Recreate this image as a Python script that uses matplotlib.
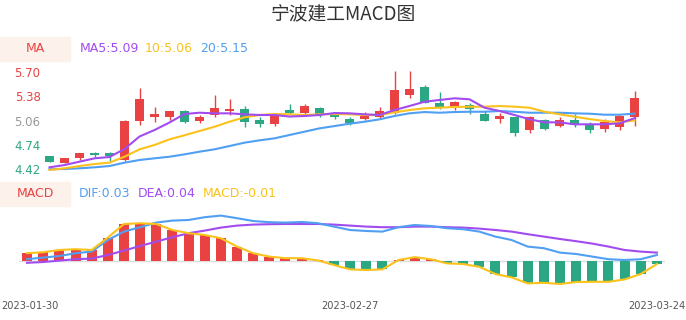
import numpy as np
import pandas as pd
import matplotlib
matplotlib.use('Agg')
import matplotlib.pyplot as plt
import matplotlib.transforms as mtransforms
from matplotlib.patches import Rectangle

# trading days shown on the chart
dates = pd.bdate_range('2023-01-30', '2023-03-24').strftime('%Y-%m-%d').tolist()

# daily candles
opens = [4.59, 4.50, 4.57, 4.64, 4.64, 4.54, 5.05, 5.11, 5.10, 5.19,
         5.05, 5.13, 5.18, 5.21, 5.07, 5.02, 5.20, 5.16, 5.23, 5.13,
         5.08, 5.08, 5.11, 5.16, 5.40, 5.50, 5.29, 5.24, 5.26, 5.15,
         5.08, 5.10, 4.93, 5.07, 4.99, 5.07, 5.01, 4.95, 4.98, 5.11]
closes = [4.52, 4.57, 4.63, 4.61, 4.59, 5.06, 5.34, 5.15, 5.18, 5.04,
          5.11, 5.23, 5.21, 5.04, 5.01, 5.12, 5.16, 5.25, 5.15, 5.11,
          5.03, 5.12, 5.19, 5.46, 5.47, 5.29, 5.23, 5.30, 5.21, 5.06,
          5.12, 4.90, 5.11, 4.95, 5.07, 5.00, 4.94, 5.04, 5.12, 5.36]
highs = [4.60, 4.57, 4.64, 4.65, 4.65, 5.07, 5.49, 5.24, 5.19, 5.20,
         5.13, 5.40, 5.34, 5.25, 5.11, 5.13, 5.28, 5.28, 5.24, 5.14,
         5.10, 5.17, 5.24, 5.71, 5.71, 5.53, 5.43, 5.32, 5.29, 5.18,
         5.16, 5.10, 5.12, 5.08, 5.11, 5.15, 5.04, 5.08, 5.13, 5.45]
lows = [4.51, 4.50, 4.54, 4.58, 4.53, 4.53, 5.00, 5.04, 5.07, 5.03,
        5.03, 5.10, 5.13, 4.98, 4.98, 4.99, 5.14, 5.14, 5.11, 5.08,
        5.00, 5.07, 5.09, 5.15, 5.35, 5.29, 5.21, 5.20, 5.14, 5.05,
        5.03, 4.86, 4.90, 4.93, 4.97, 4.98, 4.90, 4.91, 4.93, 4.99]

# moving averages as drawn
ma5 = [4.446, 4.476, 4.520, 4.564, 4.581, 4.686, 4.850, 4.935, 5.034, 5.145,
       5.162, 5.154, 5.154, 5.141, 5.132, 5.132, 5.112, 5.119, 5.132, 5.158,
       5.154, 5.141, 5.132, 5.197, 5.250, 5.306, 5.329, 5.351, 5.338, 5.228,
       5.185, 5.132, 5.076, 5.036, 5.036, 5.010, 5.010, 5.010, 5.023, 5.090]
ma10 = [4.411, 4.433, 4.463, 4.489, 4.507, 4.585, 4.682, 4.739, 4.813, 4.866,
        4.922, 4.978, 5.044, 5.102, 5.132, 5.145, 5.141, 5.132, 5.141, 5.145,
        5.141, 5.132, 5.132, 5.167, 5.197, 5.220, 5.228, 5.237, 5.241, 5.241,
        5.250, 5.241, 5.228, 5.175, 5.141, 5.110, 5.079, 5.053, 5.036, 5.060]
ma20 = [4.420, 4.424, 4.433, 4.446, 4.463, 4.507, 4.542, 4.564, 4.585, 4.616,
        4.651, 4.682, 4.725, 4.769, 4.800, 4.826, 4.870, 4.913, 4.957, 4.987,
        5.018, 5.044, 5.075, 5.119, 5.154, 5.171, 5.162, 5.171, 5.175, 5.175,
        5.184, 5.175, 5.162, 5.162, 5.162, 5.154, 5.149, 5.136, 5.136, 5.150]

# MACD panel
dif = [0.009, 0.017, 0.025, 0.039, 0.047, 0.105, 0.147, 0.169, 0.192, 0.202,
       0.205, 0.219, 0.227, 0.214, 0.200, 0.194, 0.192, 0.195, 0.189, 0.172,
       0.155, 0.150, 0.147, 0.169, 0.180, 0.175, 0.164, 0.159, 0.147, 0.122,
       0.105, 0.072, 0.064, 0.042, 0.035, 0.022, 0.009, 0.005, 0.009, 0.030]
dea = [-0.009, -0.005, 0.002, 0.009, 0.012, 0.030, 0.052, 0.075, 0.097, 0.119,
       0.139, 0.152, 0.167, 0.177, 0.182, 0.184, 0.185, 0.185, 0.185, 0.182,
       0.177, 0.172, 0.169, 0.169, 0.172, 0.172, 0.169, 0.167, 0.162, 0.155,
       0.147, 0.134, 0.122, 0.110, 0.099, 0.087, 0.072, 0.055, 0.047, 0.042]
macd = [0.039, 0.044, 0.055, 0.059, 0.055, 0.117, 0.185, 0.189, 0.185, 0.155,
        0.139, 0.130, 0.114, 0.072, 0.039, 0.022, 0.014, 0.014, 0.003, -0.020,
        -0.042, -0.045, -0.042, 0.005, 0.019, 0.009, -0.012, -0.015, -0.029, -0.065,
        -0.082, -0.112, -0.109, -0.115, -0.105, -0.104, -0.104, -0.092, -0.065, -0.015]

RED = '#e94242'
GREEN = '#2ba784'
PURPLE = '#a24cf0'
YELLOW = '#fbc21c'
BLUE = '#509ff2'

W, H = 686, 320
fig = plt.figure(figsize=(W / 100, H / 100), dpi=100)


def box(l, t, r, b):
    return [l / W, 1 - b / H, (r - l) / W, (b - t) / H]


def px(x, y):
    return x / W, 1 - y / H


x = np.arange(len(dates))

# ---- candle panel
ax1 = fig.add_axes(box(42, 68.65, 642, 172.35))
ax1.set_xlim(-0.5, len(dates) - 0.5)
ax1.set_ylim(4.38, 5.74)
for i in x:
    col = RED if closes[i] >= opens[i] else GREEN
    ax1.vlines(i, lows[i], highs[i], color=col, lw=1)
    h = max(abs(closes[i] - opens[i]), 0.006)
    ax1.bar(i, h, bottom=min(opens[i], closes[i]), width=0.55, color=col)
ax1.plot(x, ma20, color=BLUE, lw=1.5)
ax1.plot(x, ma10, color=YELLOW, lw=1.5)
ax1.plot(x, ma5, color=PURPLE, lw=1.5)

yt = [4.42, 4.74, 5.06, 5.38, 5.70]
ax1.set_yticks(yt)
ax1.set_yticklabels([f'{v:.2f}' for v in yt], fontsize=8.5)
for lab, c in zip(ax1.get_yticklabels(), [GREEN, GREEN, '#999999', RED, RED]):
    lab.set_color(c)
ax1.set_xticks([])
ax1.tick_params(axis='y', length=0, pad=1)
for s in ax1.spines.values():
    s.set_visible(False)

# ---- MACD panel
ax2 = fig.add_axes(box(19, 211, 665, 291))
ax2.set_xlim(-0.5, len(dates) - 0.5)
ax2.set_ylim(-0.15, 0.25)
ax2.axhline(0, color='#dddddd', lw=1, zorder=0)
ax2.bar(x, macd, width=0.62, color=[RED if v >= 0 else GREEN for v in macd])
ax2.plot(x, dea, color=PURPLE, lw=1.5)
ax2.plot(x, dif, color=BLUE, lw=1.5)
ax2.plot(x, macd, color=YELLOW, lw=1.5)
ax2.set_yticks([])
ax2.set_xticks([0, 20, 39])
ax2.set_xticklabels([dates[0], dates[20], dates[39]], fontsize=7.1, color='#555555')
ax2.tick_params(axis='x', length=0, pad=7)
# keep the first date inside the left edge, as in the original
first = ax2.get_xticklabels()[0]
first.set_transform(first.get_transform() +
                    mtransforms.ScaledTranslation(3 / 100, 0, fig.dpi_scale_trans))
for s in ax2.spines.values():
    s.set_visible(False)

# ---- title and legends
fig.text(*px(343, 15), '宁波建工MACD图', ha='center', va='center', fontsize=13.5,
         color='#333333', family=['Noto Sans CJK SC', 'DejaVu Sans'])

fig.patches.append(Rectangle(px(0, 61), 70 / W, 24 / H, transform=fig.transFigure,
                             color='#fdf1ec', zorder=0))
fig.text(*px(35, 49), 'MA', ha='center', va='center', fontsize=9, color=RED)
fig.text(*px(80, 49), 'MA5:5.09', va='center', fontsize=9, color=PURPLE)
fig.text(*px(145, 49), '10:5.06', va='center', fontsize=9, color=YELLOW)
fig.text(*px(200, 49), '20:5.15', va='center', fontsize=9, color=BLUE)

fig.patches.append(Rectangle(px(0, 205.5), 70 / W, 24 / H, transform=fig.transFigure,
                             color='#fdf1ec', zorder=0))
fig.text(*px(35, 193.5), 'MACD', ha='center', va='center', fontsize=9, color=RED)
fig.text(*px(79, 193.5), 'DIF:0.03', va='center', fontsize=9, color=BLUE)
fig.text(*px(138, 193.5), 'DEA:0.04', va='center', fontsize=9, color=PURPLE)
fig.text(*px(203, 193.5), 'MACD:-0.01', va='center', fontsize=9, color=YELLOW)

fig.savefig('out.png', dpi=100)
